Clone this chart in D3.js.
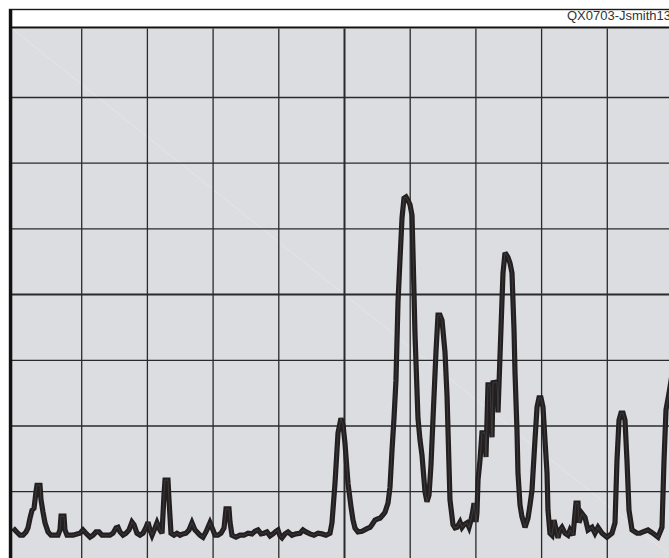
<!DOCTYPE html>
<html>
<head>
<meta charset="utf-8">
<script src="https://cdn.jsdelivr.net/npm/d3@7"></script>
<style>
  html, body { margin: 0; padding: 0; background: #ffffff; }
  svg { display: block; }
</style>
</head>
<body>
<svg id="chart" width="669" height="558"></svg>
<script>
// Spectrum trace: 2400 MHz start, 10 MHz/div, reference level -20 dBm, 10 dB/div
const title = "QX0703-Jsmith13";
const startMHz = 2400;
const spanMHz = 100;
const refLevel = -20;
const bottomLevel = -100;
const xDivisions = d3.range(0, 11);   // 10 horizontal divisions
const yDivisions = d3.range(0, 9);    // 8 vertical divisions

// Frequency offset from start (MHz)
const freqOffset = [
  -0.38, 0.08, 0.68, 1.14, 1.60, 1.90, 2.21, 2.51, 2.82, 3.12, 3.27, 3.73, 3.88, 4.19, 4.49, 4.95,
  5.40, 6.01, 6.47, 6.77, 6.93, 7.38, 7.53, 7.84, 8.30, 8.75, 9.36, 9.82, 10.27, 10.73, 11.34, 11.80,
  12.25, 12.71, 13.17, 13.77, 14.38, 14.84, 15.30, 15.60, 15.91, 16.36, 16.82, 17.28, 17.73, 18.04,
  18.49, 18.95, 19.41, 19.86, 20.17, 20.47, 20.78, 21.23, 21.54, 21.99, 22.30, 22.60, 22.76, 23.21,
  23.36, 23.67, 24.12, 24.58, 25.04, 25.49, 25.95, 26.41, 26.86, 27.32, 27.63, 28.08, 28.54, 28.99,
  29.30, 29.60, 30.06, 30.37, 30.82, 31.28, 31.74, 32.04, 32.50, 32.65, 32.95, 33.56, 34.17, 34.78,
  35.39, 35.99, 36.45, 36.91, 37.37, 37.82, 38.28, 38.74, 39.19, 39.65, 39.95, 40.26, 40.56, 41.02,
  41.48, 42.09, 42.69, 43.30, 43.76, 44.22, 44.82, 45.43, 46.04, 46.65, 47.26, 47.87, 48.17, 48.63,
  49.09, 49.54, 49.85, 50.15, 50.61, 51.07, 51.37, 51.67, 52.13, 52.74, 53.50, 53.96, 54.26, 54.72,
  55.18, 55.48, 55.94, 56.24, 56.70, 57.00, 57.31, 57.61, 57.91, 58.22, 58.52, 58.83, 59.13, 59.44,
  59.74, 60.05, 60.35, 60.50, 60.81, 61.26, 61.57, 61.87, 62.33, 62.63, 62.94, 63.24, 63.55, 64.00,
  64.31, 64.61, 64.92, 65.37, 65.68, 65.83, 66.13, 66.59, 66.90, 67.20, 67.66, 67.96, 68.26, 68.72,
  69.03, 69.33, 69.63, 69.79, 69.94, 70.09, 70.24, 70.40, 70.70, 71.00, 71.46, 71.61, 71.92, 72.22,
  72.53, 72.68, 73.29, 73.44, 73.74, 74.05, 74.20, 74.51, 74.96, 75.27, 75.57, 75.88, 76.03, 76.33,
  76.48, 76.79, 77.09, 77.55, 78.01, 78.31, 78.62, 78.77, 79.07, 79.38, 79.68, 79.98, 80.29, 80.59,
  80.90, 81.05, 81.35, 81.66, 81.96, 82.42, 82.57, 82.88, 83.18, 83.64, 84.09, 84.40, 84.86, 85.31,
  85.62, 85.77, 86.23, 86.68, 87.14, 87.75, 88.20, 88.66, 89.27, 90.03, 90.79, 91.25, 91.55, 91.86,
  92.16, 92.47, 92.77, 93.07, 93.38, 93.84, 94.60, 95.05, 95.51, 96.27, 97.03, 97.79, 98.40, 98.71,
  99.01, 99.47, 99.92
];

// Measured level (dBm)
const levelDbm = [
  -95.6, -96.1, -96.7, -96.7, -96.2, -95.6, -94.1, -92.9, -92.6, -90.1, -89.1, -89.1, -91.3, -93.2, -94.8, -96.2,
  -96.7, -96.7, -96.7, -95.9, -93.8, -93.8, -95.9, -96.7, -96.7, -96.7, -96.5, -96.4, -95.9, -96.4, -97.0, -96.7,
  -96.2, -96.2, -96.7, -96.7, -96.7, -96.4, -95.6, -95.5, -96.2, -96.7, -96.4, -95.9, -94.7, -95.1,
  -96.4, -96.7, -96.4, -95.5, -94.7, -95.9, -96.7, -95.6, -94.8, -95.9, -96.4, -90.6, -88.3, -88.3,
  -91.3, -96.4, -96.7, -96.4, -96.7, -96.5, -96.4, -95.9, -94.8, -95.9, -96.2, -96.7, -97.0, -96.2,
  -95.5, -94.8, -95.9, -96.7, -96.7, -96.4, -95.6, -92.7, -92.7, -94.7, -96.7, -97.0, -96.7, -96.7,
  -96.4, -96.5, -96.1, -95.9, -96.5, -96.4, -96.2, -96.8, -96.5, -96.1, -95.9, -96.8, -97.1, -96.5,
  -96.2, -96.7, -96.5, -96.4, -95.9, -96.2, -96.5, -96.7, -96.4, -96.5, -96.7, -96.4, -94.8, -88.8,
  -81.1, -78.9, -79.9, -82.7, -88.8, -92.4, -94.4, -95.6, -96.2, -96.1, -95.7, -95.5, -95.1, -94.4,
  -94.2, -94.1, -93.6, -93.2, -91.8, -89.4, -83.7, -78.9, -73.1, -61.2, -54.8, -48.4, -45.4, -45.2,
  -45.7, -46.4, -48.0, -53.6, -66.2, -78.9, -82.2, -84.5, -90.1, -91.6, -90.6, -86.0, -78.9, -68.8,
  -63.2, -63.2, -64.0, -68.8, -75.4, -80.7, -91.3, -95.1, -95.6, -95.5, -94.7, -95.5, -95.1, -94.8,
  -95.5, -94.4, -92.9, -91.8, -93.2, -94.7, -93.3, -88.3, -85.3, -81.1, -81.1, -84.8, -73.8, -73.8,
  -81.8, -73.5, -73.4, -78.0, -69.6, -60.9, -56.8, -53.7, -54.4, -55.3, -56.8, -65.5, -72.0, -80.7,
  -87.2, -92.1, -93.9, -95.5, -94.1, -92.1, -89.8, -87.2, -82.2, -77.2, -75.8, -75.8, -77.2, -82.2,
  -87.2, -92.9, -96.4, -96.7, -94.4, -96.4, -97.1, -95.9, -95.5, -96.4, -96.7, -95.9, -96.7, -91.8,
  -91.8, -94.8, -93.4, -94.0, -95.9, -95.5, -96.4, -95.5, -96.4, -97.0, -96.4, -94.8, -85.3, -79.2,
  -78.1, -78.1, -79.2, -85.3, -92.9, -95.9, -96.4, -96.4, -96.2, -95.9, -96.4, -97.0, -95.5, -85.3,
  -77.6, -75.1, -72.3
];

const svg = d3.select("#chart");
const W = 669, H = 558;

// Screen frame and graticule geometry
const frame = { x: 9.5, y: 9.5 };
const header = { top: 11, bottom: 27.5 };
const plot = { x0: 12, y0: 28.5 };
const grid = { left: 15.5, top: 31.3, cell: 65.7 };

const x = d3.scaleLinear()
  .domain([startMHz, startMHz + spanMHz])
  .range([grid.left, grid.left + 10 * grid.cell]);
const y = d3.scaleLinear()
  .domain([refLevel, bottomLevel])
  .range([grid.top, grid.top + 8 * grid.cell]);

// Outer frame
svg.append("rect")
  .attr("x", frame.x).attr("y", frame.y)
  .attr("width", W + 20).attr("height", H + 20)
  .attr("fill", "#ffffff")
  .attr("stroke", "#1a1a1a").attr("stroke-width", 1.4);

// Header strip with the trace name
svg.append("text")
  .attr("x", 567).attr("y", 19.8)
  .attr("font-family", "Liberation Sans, Arial, sans-serif")
  .attr("font-size", 13)
  .attr("fill", "#333333")
  .text(title);

// Screen area
svg.append("rect")
  .attr("x", plot.x0).attr("y", plot.y0)
  .attr("width", W - plot.x0 + 10).attr("height", H - plot.y0 + 10)
  .attr("fill", "#dcdde0");

svg.append("defs").append("clipPath").attr("id", "screen")
  .append("rect")
  .attr("x", plot.x0).attr("y", plot.y0)
  .attr("width", W - plot.x0 + 10).attr("height", H - plot.y0 + 10);

const screen = svg.append("g").attr("clip-path", "url(#screen)");

// Faint screen diagonal
screen.append("line")
  .attr("x1", plot.x0).attr("y1", plot.y0)
  .attr("x2", x(startMHz + spanMHz)).attr("y2", y(bottomLevel))
  .attr("stroke", "#ffffff").attr("stroke-opacity", 0.35).attr("stroke-width", 0.8);

// Graticule: vertical lines
const xAxis = d3.axisBottom(x)
  .tickValues(xDivisions.slice(1).map(d => startMHz + d * spanMHz / 10))
  .tickSize(-(8 * grid.cell + 10))
  .tickFormat("");
const gx = screen.append("g")
  .attr("transform", `translate(0,${y(bottomLevel) + 5})`)
  .call(xAxis);
gx.select(".domain").remove();
gx.selectAll(".tick line")
  .attr("stroke", "#2a2a2a")
  .attr("stroke-width", (d, i) => (i === 4 ? 2 : 1.3));

// Graticule: horizontal lines
const levelTicks = yDivisions.slice(1, 8).map(d => refLevel - d * 10);
const yAxis = d3.axisLeft(y)
  .tickValues(levelTicks)
  .tickSize(-(10 * grid.cell + 20))
  .tickFormat("");
const gy = screen.append("g")
  .attr("transform", `translate(${plot.x0},0)`)
  .call(yAxis);
gy.select(".domain").remove();
gy.selectAll(".tick line")
  .attr("stroke", "#2a2a2a")
  .attr("stroke-width", d => (d === -60 ? 2 : 1.3));

// Trace
const points = freqOffset.map((f, i) => ({ f: startMHz + f, v: levelDbm[i] }));
const line = d3.line().x(d => x(d.f)).y(d => y(d.v));

screen.append("path")
  .datum(points)
  .attr("d", line)
  .attr("fill", "none")
  .attr("stroke", "#231f20")
  .attr("stroke-width", 5.2)
  .attr("stroke-linejoin", "miter")
  .attr("stroke-miterlimit", 3);

screen.append("path")
  .datum(points)
  .attr("d", line)
  .attr("fill", "none")
  .attr("stroke", "#7a7a7a")
  .attr("stroke-opacity", 0.4)
  .attr("stroke-width", 0.7);

// Header separator and left frame edge
svg.append("line")
  .attr("x1", frame.x).attr("x2", W)
  .attr("y1", header.bottom).attr("y2", header.bottom)
  .attr("stroke", "#111111").attr("stroke-width", 2);
svg.append("line")
  .attr("x1", 10.8).attr("x2", 10.8)
  .attr("y1", frame.y).attr("y2", H)
  .attr("stroke", "#111111").attr("stroke-width", 3);
</script>
</body>
</html>
